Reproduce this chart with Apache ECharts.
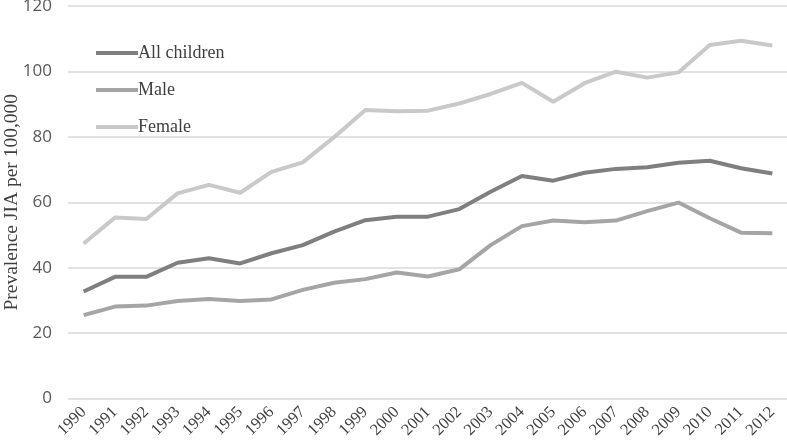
<!DOCTYPE html>
<html><head><meta charset="utf-8">
<script src="https://cdn.jsdelivr.net/npm/echarts@6/dist/echarts.min.js"></script>
<style>html,body{margin:0;padding:0;background:#fff}#c{width:787px;height:446px}</style>
</head><body><div id="c"></div>
<script>
var years = ['1990','1991','1992','1993','1994','1995','1996','1997','1998','1999','2000','2001','2002','2003','2004','2005','2006','2007','2008','2009','2010','2011','2012'];
var allChildren = [32.7,37.2,37.2,41.5,42.9,41.3,44.4,46.9,51.0,54.5,55.6,55.6,57.9,63.2,68.0,66.6,69.0,70.2,70.7,72.1,72.7,70.4,68.8];
var male = [25.5,28.1,28.4,29.8,30.4,29.8,30.3,33.2,35.4,36.5,38.5,37.3,39.5,46.9,52.7,54.4,53.9,54.4,57.3,59.9,55.1,50.7,50.5];
var female = [47.4,55.3,54.9,62.7,65.3,62.9,69.3,72.2,79.9,88.2,87.8,88.0,90.2,93.1,96.5,90.7,96.4,99.9,98.1,99.7,108.1,109.4,107.9];
var seriesNames = ['All children','Male','Female'];
var colors = ['#7f7f7f','#a5a5a5','#c9c9c9'];
var chart = echarts.init(document.getElementById('c'));
function mk(name, data, color){
  return {name:name,type:'line',data:data,symbol:'none',smooth:false,
    lineStyle:{width:4,color:color},itemStyle:{color:color}};
}
chart.setOption({
  animation:false,
  color:colors,
  grid:{left:68,width:720,top:6,bottom:47.5,containLabel:false,outerBoundsMode:'none'},
  legend:{orient:'vertical',left:91,top:39,icon:'rect',itemWidth:42,itemHeight:4,itemGap:19,
    data:seriesNames,
    textStyle:{fontFamily:'Liberation Serif',fontSize:18,color:'#404040',lineHeight:18,padding:[0,0,0,-5]}},
  xAxis:{type:'category',data:years,boundaryGap:true,
    axisLine:{show:false},axisTick:{show:false},
    axisLabel:{rotate:45,interval:0,fontFamily:'Liberation Serif',fontSize:16.5,color:'#404040',margin:11}},
  yAxis:{type:'value',min:0,max:120,interval:20,
    name:'Prevalence JIA per 100,000',nameLocation:'middle',nameGap:46,nameMoveOverlap:false,
    nameTextStyle:{fontFamily:'Liberation Serif',fontSize:19.5,color:'#404040'},
    axisLine:{show:false},axisTick:{show:false},
    axisLabel:{fontFamily:'Open Sans',fontSize:17,color:'#595959',margin:16},
    splitLine:{lineStyle:{color:'#d9d9d9',width:1.5}}},
  series:[mk(seriesNames[0],allChildren,colors[0]),mk(seriesNames[1],male,colors[1]),mk(seriesNames[2],female,colors[2])]
});
</script></body></html>
